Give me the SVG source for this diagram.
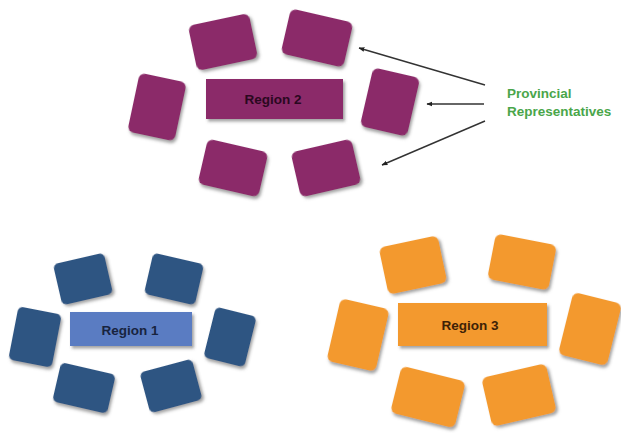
<svg xmlns="http://www.w3.org/2000/svg" width="621" height="433" viewBox="0 0 621 433">
<defs>
<filter id="sh" x="-30%" y="-30%" width="160%" height="160%">
<feDropShadow dx="2" dy="2.5" stdDeviation="1.6" flood-color="#555" flood-opacity="0.55"/>
</filter>
<marker id="ah" viewBox="0 0 10 10" refX="9" refY="5" markerWidth="6" markerHeight="6" orient="auto-start-reverse" markerUnits="userSpaceOnUse">
<path d="M0,1 L10,5 L0,9 z" fill="#222"/>
</marker>
</defs>
<style>
.p{fill:#8b2b69;filter:url(#sh)}
.b{fill:#2f5582;filter:url(#sh)}
.bc{fill:#5a7cc2;filter:url(#sh)}
.o{fill:#f3992f;filter:url(#sh)}
.lbl{font-family:"Liberation Sans",Arial,sans-serif;font-weight:bold;font-size:13.5px;text-anchor:middle}
.conn{stroke:#333;stroke-width:1.4;fill:none;marker-end:url(#ah)}
.green{font-family:"Liberation Sans",Arial,sans-serif;font-weight:bold;font-size:13.5px;fill:#4aa64a}
</style>
<rect width="621" height="433" fill="#fff"/>

<g id="region2">
<rect class="p" x="-31" y="-23" width="62" height="46" rx="6" transform="translate(223,42) rotate(-12)"/>
<rect class="p" x="-32" y="-23" width="64" height="46" rx="6" transform="translate(317,38) rotate(13)"/>
<rect class="p" x="-24" y="-30" width="48" height="60" rx="6" transform="translate(157,107) rotate(12)"/>
<rect class="p" x="-24" y="-30" width="48" height="60" rx="6" transform="translate(390,102) rotate(13)"/>
<rect class="p" x="-31" y="-23" width="62" height="46" rx="6" transform="translate(233,168) rotate(13)"/>
<rect class="p" x="-31" y="-23" width="62" height="46" rx="6" transform="translate(326,168) rotate(-13)"/>
<rect class="p" x="206" y="79" width="137" height="40"/>
<text class="lbl" x="273" y="104" fill="#2a0820">Region 2</text>
</g>

<g id="region1">
<rect class="b" x="-26" y="-21" width="52" height="42" rx="5" transform="translate(83,279) rotate(-13)"/>
<rect class="b" x="-26" y="-21" width="52" height="42" rx="5" transform="translate(174,279) rotate(13)"/>
<rect class="b" x="-22" y="-27" width="44" height="54" rx="5" transform="translate(35,337) rotate(11)"/>
<rect class="b" x="-21" y="-26" width="42" height="52" rx="5" transform="translate(230,337) rotate(14)"/>
<rect class="b" x="-28" y="-20" width="56" height="40" rx="5" transform="translate(84,388) rotate(13)"/>
<rect class="b" x="-27" y="-21" width="54" height="42" rx="5" transform="translate(171,386) rotate(-15)"/>
<rect class="bc" x="70" y="312" width="122" height="34"/>
<text class="lbl" x="130" y="335" fill="#18243e">Region 1</text>
</g>

<g id="region3">
<rect class="o" x="-30" y="-24" width="60" height="48" rx="6" transform="translate(413,265) rotate(-12)"/>
<rect class="o" x="-31" y="-23" width="62" height="46" rx="6" transform="translate(522,262) rotate(11)"/>
<rect class="o" x="-25" y="-32" width="50" height="64" rx="6" transform="translate(358,335) rotate(13)"/>
<rect class="o" x="-25" y="-32" width="50" height="64" rx="6" transform="translate(590,329) rotate(14)"/>
<rect class="o" x="-33" y="-24" width="66" height="48" rx="6" transform="translate(428,397) rotate(14)"/>
<rect class="o" x="-33" y="-25" width="66" height="50" rx="6" transform="translate(519,395) rotate(-13)"/>
<rect class="o" x="398" y="303" width="149" height="43"/>
<text class="lbl" x="470" y="330" fill="#3e2206">Region 3</text>
</g>

<g id="connectors">
<line class="conn" x1="485" y1="85" x2="359" y2="48"/>
<line class="conn" x1="484" y1="104" x2="427" y2="104"/>
<line class="conn" x1="485" y1="121" x2="382" y2="165"/>
</g>

<g id="label-provincial">
<text class="green" x="507" y="98">Provincial</text>
<text class="green" x="507" y="116">Representatives</text>
</g>
</svg>
